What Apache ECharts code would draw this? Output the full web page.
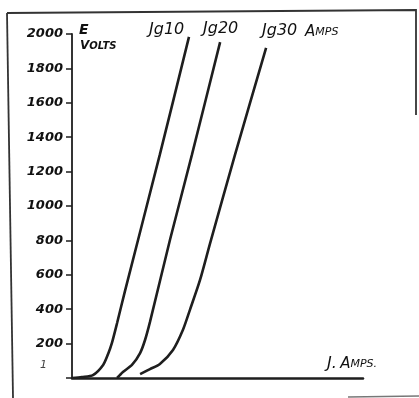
<!DOCTYPE html>
<html>
<head>
<meta charset="utf-8">
<script src="https://cdn.jsdelivr.net/npm/echarts@6/dist/echarts.min.js"></script>
<style>
html,body{margin:0;padding:0;background:#fff;}
#chart{width:419px;height:398px;}
</style>
</head>
<body>
<div id="chart"></div>
<script>
// Data (x: J in arbitrary units 0-100, y: E volts)
var jg10X = [0, 3.4, 7.2, 10.7, 12.4, 13.7, 15.5, 18.2, 30.2, 40.2];
var jg10Y = [0, 6, 17, 76, 140, 203, 320, 505, 1300, 1983];
var jg20X = [15.5, 17.5, 20.6, 23.4, 25.1, 26.8, 33.7, 41.2, 50.9];
var jg20Y = [0, 35, 76, 145, 221, 326, 805, 1297, 1953];
var jg30X = [23.4, 26.8, 30.2, 34.7, 38.1, 40.5, 44.0, 47.4, 56.0, 66.7];
var jg30Y = [23, 52, 81, 163, 279, 395, 570, 780, 1297, 1919];
var seriesNames = ['Jg10', 'Jg20', 'Jg30'];
var yTicks = [200, 400, 600, 800, 1000, 1200, 1400, 1600, 1800, 2000];

function pairs(xs, ys) { return xs.map(function (x, i) { return [x, ys[i]]; }); }

var chart = echarts.init(document.getElementById('chart'));
var lineStyle = { color: '#1e1e1e', width: 2.6 };
function mkSeries(name, xs, ys) {
  return {
    name: name, type: 'line', data: pairs(xs, ys),
    smooth: 0.25, showSymbol: false, symbol: 'none',
    lineStyle: lineStyle, silent: true, animation: false
  };
}
var hand = '"DejaVu Sans", sans-serif';
chart.setOption({
  backgroundColor: '#ffffff',
  animation: false,
  grid: { left: 72, right: 56, top: 34, bottom: 20 },
  xAxis: {
    type: 'value', min: 0, max: 100,
    axisLine: { show: true, lineStyle: { color: '#1e1e1e', width: 2.5 } },
    axisTick: { show: false }, axisLabel: { show: false }, splitLine: { show: false }
  },
  yAxis: {
    type: 'value', min: 0, max: 2000, interval: 200,
    axisLine: { show: true, lineStyle: { color: '#1e1e1e', width: 1.8 } },
    axisTick: { show: true, length: 6, lineStyle: { color: '#1e1e1e', width: 1.5 } },
    splitLine: { show: false },
    axisLabel: {
      margin: 9, color: '#111', fontFamily: hand, fontStyle: 'italic', fontWeight: 'bold', fontSize: 13,
      formatter: function (v) { return yTicks.indexOf(v) >= 0 ? String(v) : ''; }
    }
  },
  series: [
    mkSeries(seriesNames[0], jg10X, jg10Y),
    mkSeries(seriesNames[1], jg20X, jg20Y),
    mkSeries(seriesNames[2], jg30X, jg30Y)
  ],
  graphic: [
    { type: 'polyline', shape: { points: [[7, 13], [416, 10], [416, 115]] }, style: { stroke: '#333', lineWidth: 1.8, fill: null } },
    { type: 'polyline', shape: { points: [[7, 13], [13, 398]] }, style: { stroke: '#333', lineWidth: 1.8, fill: null } },
    { type: 'line', shape: { x1: 348, y1: 397, x2: 419, y2: 396 }, style: { stroke: '#777', lineWidth: 1.5 } },
    { type: 'text', left: 79, top: 23, style: { text: 'E', font: 'italic bold 14px ' + hand, fill: '#111' } },
    { type: 'text', left: 80, top: 40, style: { text: '{a|V}{b|OLTS}', rich: { a: { font: 'italic bold 12px ' + hand, fill: '#111' }, b: { font: 'italic bold 10px ' + hand, fill: '#111' } } } },
    { type: 'text', left: 40, top: 360, style: { text: '1', font: 'italic 11px ' + hand, fill: '#444' } },
    { type: 'text', left: 149, top: 22, style: { text: 'Jg10', font: 'italic 16px ' + hand, fill: '#111' } },
    { type: 'text', left: 203, top: 21, style: { text: 'Jg20', font: 'italic 16px ' + hand, fill: '#111' } },
    { type: 'text', left: 262, top: 23, style: { text: 'Jg30', font: 'italic 16px ' + hand, fill: '#111' } },
    { type: 'text', left: 305, top: 25, style: { text: '{a|A}{b|MPS}', rich: { a: { font: 'italic 15px ' + hand, fill: '#111' }, b: { font: 'italic 11px ' + hand, fill: '#111' } } } },
    { type: 'text', left: 327, top: 356, style: { text: '{a|J.} {b|A}{c|MPS.}', rich: { a: { font: 'italic 16px ' + hand, fill: '#111' }, b: { font: 'italic 15px ' + hand, fill: '#111' }, c: { font: 'italic 11px ' + hand, fill: '#111' } } } }
  ]
});
</script>
</body>
</html>
